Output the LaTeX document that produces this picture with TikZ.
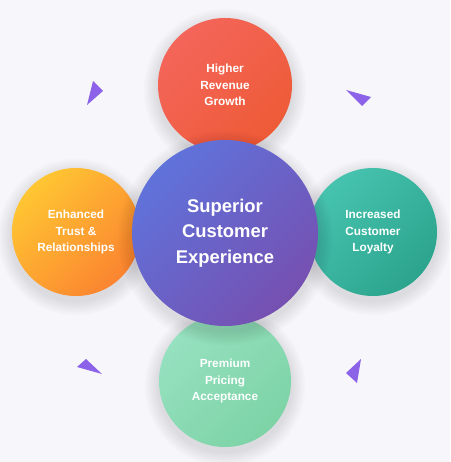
\documentclass[tikz,border=0pt]{standalone}
\usepackage{fontspec}
\setmainfont{Liberation Sans}
\usetikzlibrary{calc}
\definecolor{bgcol}{HTML}{F7F7FB}
\definecolor{trianglecol}{HTML}{8C62E8}
\definecolor{redA}{HTML}{F4655A}
\definecolor{redB}{HTML}{EE5B37}
\definecolor{mintA}{HTML}{96E1C0}
\definecolor{mintB}{HTML}{7DD3A6}
\definecolor{orangeA}{HTML}{FFC632}
\definecolor{orangeB}{HTML}{FB8430}
\definecolor{tealA}{HTML}{46C3AF}
\definecolor{tealB}{HTML}{2CA48D}
\definecolor{violetA}{HTML}{5F73DB}
\definecolor{violetB}{HTML}{7650B1}
\tikzset{
  bubble/.style={circle, inner sep=0pt, text=white, align=center,
    font=\bfseries\fontsize{11.8}{16.5}\selectfont},
  hub/.style={bubble, font=\bfseries\fontsize{18.4}{25.5}\selectfont},
  shard/.style={fill=trianglecol}
}
% soft shadow under a bubble: centre, radius
\newcommand{\softshadow}[2]{%
  \foreach \k in {1,...,9}
    \fill[black, opacity=0.012] ($(#1)+(0,5)$) circle ({#2pt+1.6pt*\k});
}
\begin{document}
\begin{tikzpicture}[x=1pt, y=-1pt]
  \useasboundingbox[fill=bgcol] (0,0) rectangle (450,462);
  % outer bubbles
  \softshadow{225,85}{67}
  \node[bubble, minimum size=134pt, top color=redA, bottom color=redB, shading angle=45]
    (revenue) at (225,85) {Higher\\Revenue\\Growth};
  \softshadow{225,381}{66}
  \node[bubble, minimum size=132pt, top color=mintA, bottom color=mintB, shading angle=45]
    (pricing) at (225,381) {Premium\\Pricing\\Acceptance};
  \softshadow{76,232}{64}
  \node[bubble, minimum size=128pt, top color=orangeA, bottom color=orangeB, shading angle=45]
    (trust) at (76,232) {Enhanced\\Trust \&\\Relationships};
  \softshadow{373,232}{64}
  \node[bubble, minimum size=128pt, top color=tealA, bottom color=tealB, shading angle=45]
    (loyalty) at (373,232) {Increased\\Customer\\Loyalty};
  % centre bubble
  \softshadow{225,233}{93}
  \node[hub, minimum size=186pt, top color=violetA, bottom color=violetB, shading angle=45]
    (experience) at (225,233) {Superior\\Customer\\Experience};
  % small triangles
  \fill[shard] (93,81) -- (103,91) -- (87,105) -- cycle;
  \fill[shard] (346,90) -- (371,97) -- (362,106) -- cycle;
  \fill[shard] (86,359) -- (102,374) -- (77,367) -- cycle;
  \fill[shard] (361,359) -- (357,383) -- (346,373) -- cycle;
\end{tikzpicture}
\end{document}
